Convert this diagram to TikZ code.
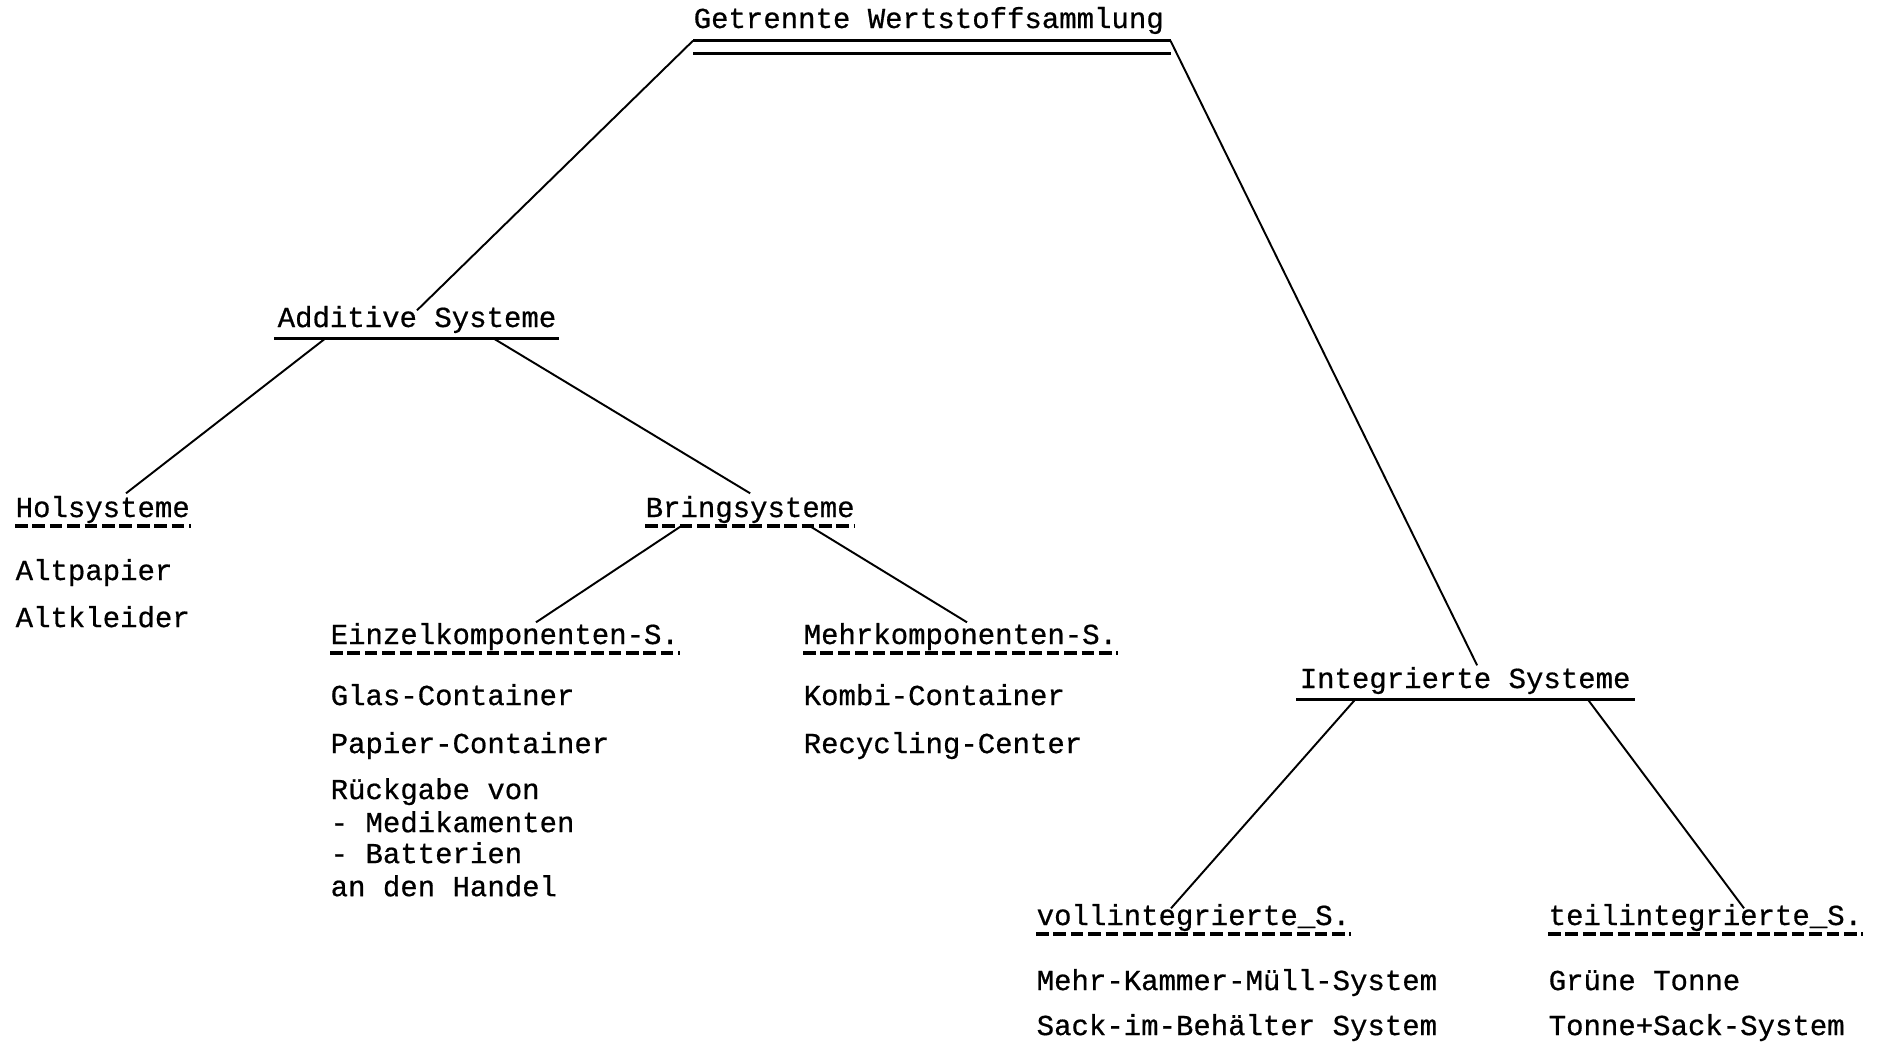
\documentclass[tikz,border=0pt]{standalone}
\usepackage{fontspec}
\newfontfamily\typewr[FakeBold=0.6]{Liberation Mono}
\usetikzlibrary{positioning,calc}

\begin{document}
\begin{tikzpicture}[x=0.01cm,y=-0.01cm,
    every node/.style={font=\typewr\fontsize{8.25pt}{10pt}\selectfont,inner sep=0pt,anchor=base west,text height=0.16cm},
    titlenode/.style={text depth=0.12cm},
    sysnode/.style={text depth=0.11cm},
    subnode/.style={text depth=0.085cm},
    uline/.style={line width=0.9pt},
    dline/.style={line width=1pt,dash pattern=on 3.6pt off 1.35pt},
    link/.style={line width=0.55pt}]

   \useasboundingbox (0,0) rectangle (1889,1044);

   \node[titlenode] (wst)    at (693,28)   {Getrennte Wertstoffsammlung};
   \node[sysnode]   (add)    at (277,327)  {Additive Systeme};
   \node[sysnode]   (integ)  at (1299,688) {Integrierte Systeme};
   \node[subnode]   (hol)    at (15,517)   {Holsysteme};
   \node[subnode]   (bring)  at (645,517)  {Bringsysteme};
   \node[subnode]   (einzel) at (330,644)  {Einzelkomponenten-S.};
   \node[subnode]   (mehr)   at (803,644)  {Mehrkomponenten-S.};
   \node[subnode]   (voll)   at (1036,925) {vollintegrierte\_S.};
   \node[subnode]   (teil)   at (1548,925) {teilintegrierte\_S.};

   \node (altp) [below=0.63cm of hol.base west,anchor=base west] {Altpapier};
   \node (altk) [below=0.47cm of altp.base west,anchor=base west] {Altkleider};

   \node (glas)   [below=0.61cm of einzel.base west,anchor=base west] {Glas-Container};
   \node (papc)   [below=0.48cm of glas.base west,anchor=base west]   {Papier-Container};
   \node (rueck)  [below=0.46cm of papc.base west,anchor=base west]   {Rückgabe von};
   \node (medi)   [below=0.33cm of rueck.base west,anchor=base west]  {- Medikamenten};
   \node (batt)   [below=0.31cm of medi.base west,anchor=base west]   {- Batterien};
   \node (handel) [below=0.33cm of batt.base west,anchor=base west]   {an den Handel};

   \node (kombi) [below=0.61cm of mehr.base west,anchor=base west]  {Kombi-Container};
   \node (recyc) [below=0.48cm of kombi.base west,anchor=base west] {Recycling-Center};

   \node (mkm)   [below=0.65cm of voll.base west,anchor=base west] {Mehr-Kammer-Müll-System};
   \node (sack)  [below=0.45cm of mkm.base west,anchor=base west]  {Sack-im-Behälter System};
   \node (gruen) [below=0.65cm of teil.base west,anchor=base west] {Grüne Tonne};
   \node (tsack) [below=0.45cm of gruen.base west,anchor=base west] {Tonne+Sack-System};

   % underlines
   \draw[uline] (wst.south west) -- ($(wst.south east)+(6,0)$);
   \draw[uline] ($(wst.south west)+(0,13)$) -- ($(wst.south east)+(6,13)$);
   \draw[uline] ($(add.south west)+(-3,0)$) -- ($(add.south east)+(2,0)$);
   \draw[uline] ($(integ.south west)+(-3,0)$) -- ($(integ.south east)+(4,0)$);
   \foreach \n in {hol,bring,einzel,mehr,voll,teil}
      \draw[dline] (\n.south west) -- (\n.south east);

   % connectors
   \draw[link] (wst.south west) -- (add.north);
   \draw[link] ($(wst.south east)+(6,0)$) -- ($(integ.north)+(12,-6)$);
   \draw[link] ($(add.south west)+(48,0)$) -- ($(hol.north west)+(111,-7)$);
   \draw[link] ($(add.south west)+(217,0)$) -- ($(bring.north)+(0,-7)$);
   \draw[link] ($(bring.south west)+(36,0)$) -- ($(einzel.north west)+(206,-5)$);
   \draw[link] ($(bring.south west)+(165,0)$) -- ($(mehr.north west)+(164,-5)$);
   \draw[link] ($(integ.south west)+(56,0)$) -- ($(voll.north west)+(135,0)$);
   \draw[link] ($(integ.south west)+(289,0)$) -- ($(teil.north west)+(196,0)$);
\end{tikzpicture}
\end{document}
